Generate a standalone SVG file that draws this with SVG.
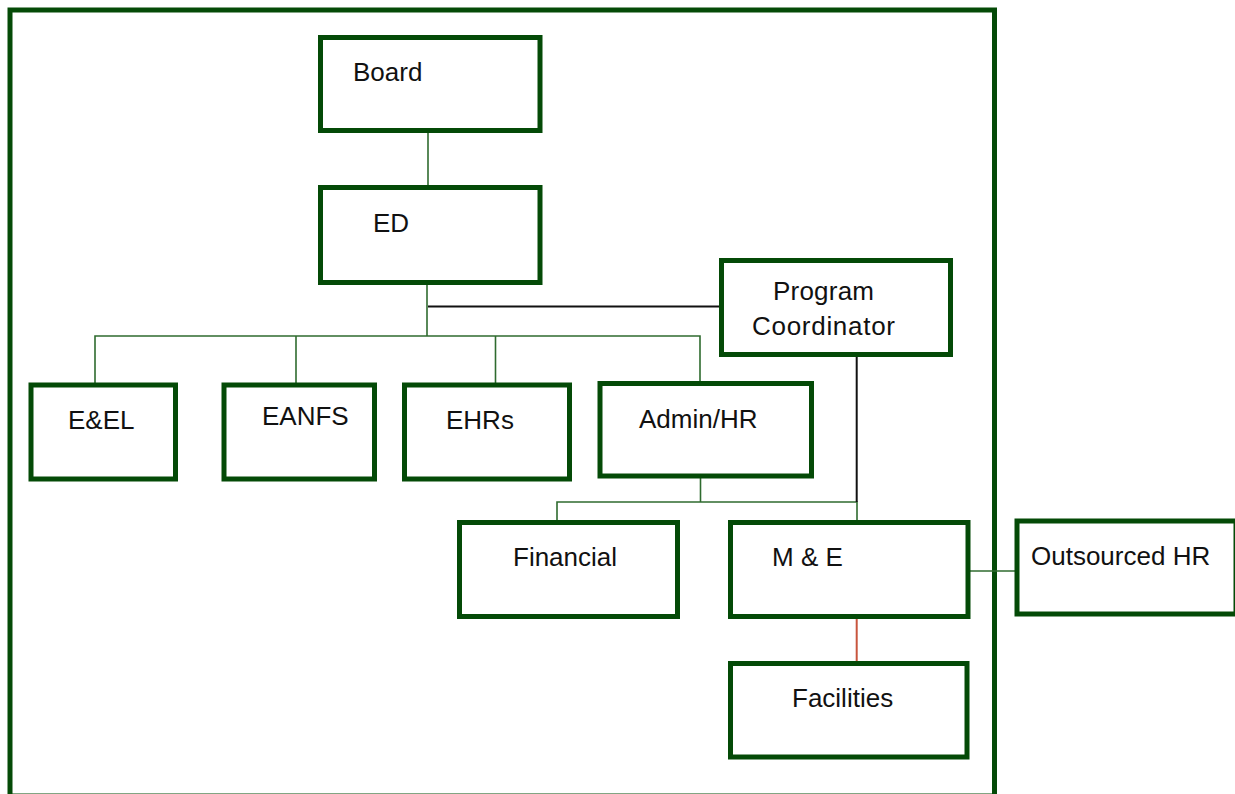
<svg xmlns="http://www.w3.org/2000/svg" width="1235" height="794" viewBox="0 0 1235 794">
<style>
.box{fill:#fff;stroke:#044a07;stroke-width:5}
.frame{fill:none;stroke:#044a07;stroke-width:5}
.lbl{font-family:"Liberation Sans",Arial,sans-serif;font-size:26px;fill:#111}
.g{stroke:#2f6b2f;stroke-width:1.6;fill:none}
.k{stroke:#111;stroke-width:2;fill:none}
.r{stroke:#c8553d;stroke-width:2;fill:none}
</style>
<rect class="frame" x="10" y="10" width="984.5" height="786"/>
<g id="connectors">
<line class="g" x1="428" y1="131" x2="428" y2="187"/>
<line class="g" x1="427" y1="282" x2="427" y2="336"/>
<line class="k" x1="428" y1="306.5" x2="721" y2="306.5"/>
<polyline class="g" points="95,385 95,336 700,336 700,383"/>
<line class="g" x1="296" y1="336" x2="296" y2="385"/>
<line class="g" x1="495.5" y1="336" x2="495.5" y2="385"/>
<line class="g" x1="700.5" y1="477" x2="700.5" y2="502"/>
<polyline class="g" points="557,522 557,502 857,502 857,522"/>
<line class="k" x1="856.7" y1="355" x2="856.7" y2="502"/>
<line class="r" x1="856.7" y1="617" x2="856.7" y2="662"/>
<line class="g" x1="968" y1="571" x2="1017" y2="571"/>
</g>
<g id="board"><rect class="box" x="320.5" y="37.5" width="219.5" height="93"/><text class="lbl" x="353" y="81">Board</text></g>
<g id="ed"><rect class="box" x="320.5" y="187.5" width="219.5" height="95"/><text class="lbl" x="373" y="232">ED</text></g>
<g id="program-coordinator"><rect class="box" x="721.5" y="260.5" width="229" height="94"/><text class="lbl" x="773" y="300" textLength="101">Program</text><text class="lbl" x="752" y="335" textLength="143">Coordinator</text></g>
<g id="eel"><rect class="box" x="31" y="385" width="144.5" height="94"/><text class="lbl" x="68" y="429">E&amp;EL</text></g>
<g id="eanfs"><rect class="box" x="224" y="385" width="150.5" height="94"/><text class="lbl" x="262" y="425">EANFS</text></g>
<g id="ehrs"><rect class="box" x="404.5" y="385" width="165" height="94"/><text class="lbl" x="446" y="429">EHRs</text></g>
<g id="admin-hr"><rect class="box" x="600" y="383.5" width="211.5" height="92.5"/><text class="lbl" x="639" y="428">Admin/HR</text></g>
<g id="financial"><rect class="box" x="459.5" y="522.5" width="218" height="94"/><text class="lbl" x="513" y="566">Financial</text></g>
<g id="m-e"><rect class="box" x="730.5" y="522.5" width="237.5" height="94"/><text class="lbl" x="772" y="566">M &amp; E</text></g>
<g id="outsourced-hr"><rect class="box" x="1017" y="521" width="219" height="93"/><text class="lbl" x="1031" y="565">Outsourced HR</text></g>
<g id="facilities"><rect class="box" x="730.5" y="663.5" width="236.5" height="93.5"/><text class="lbl" x="792" y="707">Facilities</text></g>
</svg>
